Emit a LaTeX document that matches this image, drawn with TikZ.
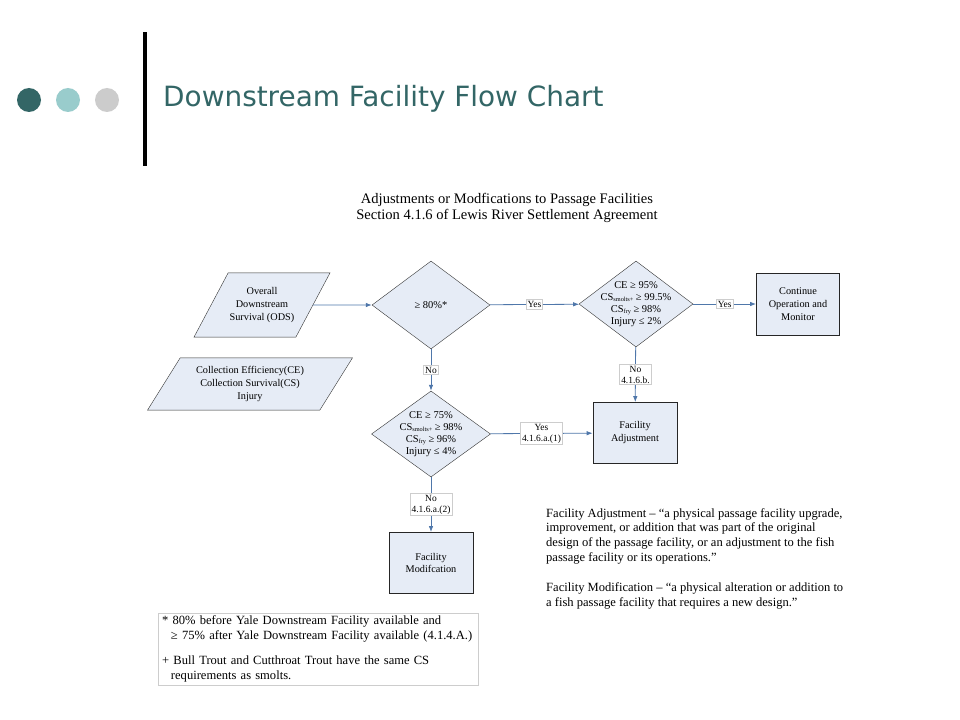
\documentclass[tikz,border=0pt]{standalone}
\usepackage{fontspec}
\setmainfont{Liberation Serif}
\newfontfamily\titlefont{DejaVu Sans}
\usetikzlibrary{shapes.geometric,arrows.meta}
\definecolor{tealdark}{RGB}{51,102,102}
\definecolor{teallight}{RGB}{153,204,204}
\definecolor{dotgrey}{RGB}{204,204,204}
\definecolor{boxfill}{RGB}{230,236,246}
\definecolor{flowline}{RGB}{79,119,170}
\definecolor{lblline}{RGB}{205,205,205}
\newcommand{\csub}[1]{\raisebox{-0.3ex}{\fontsize{6.3}{6.3}\selectfont #1}}
\begin{document}
\begin{tikzpicture}[x=1bp, y=-1bp,
   every node/.style={font=\fontsize{10.3}{13}\selectfont, align=center},
   dot/.style={circle, minimum size=24bp, inner sep=0pt},
   inout/.style={trapezium, trapezium stretches body, draw=black!80, fill=boxfill,
      inner xsep=0pt},
   decision/.style={diamond, draw=black!80, fill=boxfill, minimum width=118bp,
      minimum height=88bp, inner sep=0pt},
   dtext/.style={font=\fontsize{10.5}{12}\selectfont, inner sep=0pt},
   process/.style={rectangle, draw=black!85, fill=boxfill, minimum width=84bp,
      minimum height=61bp, line width=0.8pt},
   lbl/.style={draw=lblline, fill=white, inner sep=1.5bp, font=\fontsize{9.5}{11}\selectfont},
   flow/.style={draw=flowline, line width=0.8pt, -{Latex[length=6bp,width=4.5bp]}}]
   \useasboundingbox[fill=white] (0,0) rectangle (960,720);
   \node[dot, fill=tealdark] (dot1) at (29,100) {};
   \node[dot, fill=teallight] (dot2) at (68,100) {};
   \node[dot, fill=dotgrey] (dot3) at (107,100) {};
   \fill (143,32) rectangle (147,166);
   \node[anchor=west, inner sep=0pt, text=tealdark, font=\titlefont\fontsize{28}{32}\selectfont]
      (title) at (163,99) {Downstream Facility Flow Chart};
   \node[font=\fontsize{14.6}{15.5}\selectfont] (heading) at (507,208)
      {Adjustments or Modfications to Passage Facilities\\Section 4.1.6 of Lewis River Settlement Agreement};
   \node[inout, trapezium left angle=62, trapezium right angle=118, inner ysep=14.5bp,
      minimum width=136bp] (ods) at (262,305)
      {Overall\\Downstream\\Survival (ODS)};
   \node[inout, trapezium left angle=58, trapezium right angle=122, inner ysep=8.5bp,
      minimum width=205bp] (cecs) at (250,384)
      {Collection Efficiency(CE)\\Collection Survival(CS)\\Injury};
   \node[decision] (dA) at (431,305) {};
   \node[dtext] (dAtxt) at (dA) {≥ 80\%*};
   \node[decision, minimum width=114bp, minimum height=86bp] (dB) at (636,304) {};
   \node[dtext] (dBtxt) at (dB) {CE ≥ 95\%\\CS\csub{smolts+} ≥ 99.5\%\\CS\csub{fry} ≥ 98\%\\Injury ≤ 2\%};
   \node[decision, minimum width=119bp, minimum height=86bp] (dC) at (431,434) {};
   \node[dtext] (dCtxt) at (dC) {CE ≥ 75\%\\CS\csub{smolts+} ≥ 98\%\\CS\csub{fry} ≥ 96\%\\Injury ≤ 4\%};
   \node[process, minimum width=83bp, minimum height=62bp] (cont) at (798,304)
      {Continue\\Operation and\\Monitor};
   \node[process] (adjust) at (635,433) {Facility\\Adjustment};
   \node[process] (modif) at (431,563) {Facility\\Modifcation};
   \draw[flow] (ods) -- (dA);
   \draw[flow] (dA) -- node[lbl] (yesA) {Yes} (dB);
   \draw[flow] (dB) -- node[lbl] (yesB) {Yes} (cont);
   \draw[flow] (dA) -- node[lbl] (noA) {No} (dC);
   \draw[flow] (dB) -- node[lbl] (noB) {No\\4.1.6.b.} (adjust);
   \draw[flow] (dC) -- node[lbl] (yesC) {Yes\\4.1.6.a.(1)} (adjust);
   \draw[flow] (dC) -- node[lbl] (noC) {No\\4.1.6.a.(2)} (modif);
   \node[anchor=north west, align=left, inner sep=0pt, font=\fontsize{12.6}{15}\selectfont]
      (defs) at (546,508)
      {Facility Adjustment – “a physical passage facility upgrade,\\
       improvement, or addition that was part of the original\\
       design of the passage facility, or an adjustment to the fish\\
       passage facility or its operations.”\\[15bp]
       Facility Modification – “a physical alteration or addition to\\
       a fish passage facility that requires a new design.”};
   \node[anchor=north west, align=left, draw=lblline, text width=312bp, minimum height=72bp,
      inner xsep=4bp, inner ysep=0pt, font=\fontsize{12.6}{15}\selectfont]
      (notes) at (158,613)
      {* 80\% before Yale Downstream Facility available and\\
       \hspace*{0.7em}≥ 75\% after Yale Downstream Facility available (4.1.4.A.)\\[10bp]
       + Bull Trout and Cutthroat Trout have the same CS\\
       \hspace*{0.7em}requirements as smolts.};
\end{tikzpicture}
\end{document}
